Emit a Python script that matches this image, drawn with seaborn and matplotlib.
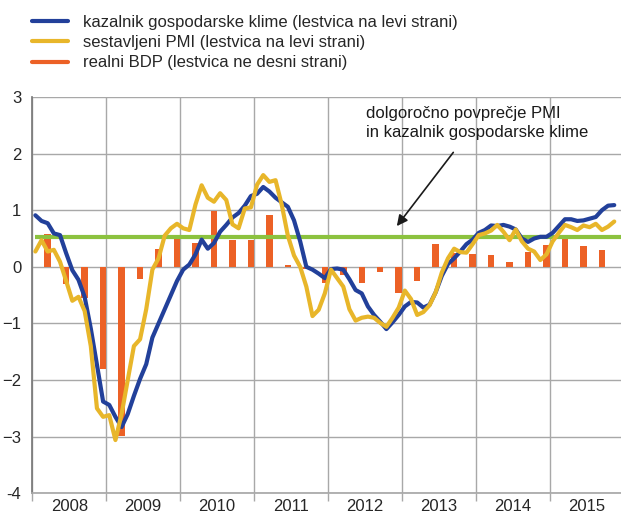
import numpy as np
import pandas as pd
import seaborn as sns
import matplotlib.pyplot as plt
from matplotlib.lines import Line2D

# mesečni podatki jan 2008 - nov 2015
months = pd.date_range('2008-01-01', periods=95, freq='MS')
klima = [0.91, 0.81, 0.77, 0.59, 0.56, 0.24, -0.06, -0.23, -0.53, -1.09, -1.73, -2.38,
         -2.44, -2.65, -2.83, -2.60, -2.28, -1.98, -1.72, -1.25, -1.00, -0.75, -0.50, -0.25,
         -0.05, 0.04, 0.22, 0.48, 0.32, 0.42, 0.62, 0.74, 0.87, 0.95, 1.08, 1.25,
         1.29, 1.41, 1.33, 1.22, 1.14, 1.06, 0.82, 0.45, 0.00, -0.05, -0.12, -0.20,
         -0.04, -0.03, -0.05, -0.22, -0.41, -0.47, -0.70, -0.85, -0.97, -1.10, -0.98, -0.85,
         -0.70, -0.62, -0.63, -0.72, -0.67, -0.45, -0.16, 0.05, 0.15, 0.27, 0.40, 0.48,
         0.60, 0.65, 0.73, 0.72, 0.74, 0.71, 0.66, 0.50, 0.44, 0.50, 0.53, 0.53,
         0.60, 0.72, 0.84, 0.84, 0.81, 0.82, 0.85, 0.88, 1.00, 1.08, 1.09]
pmi = [0.27, 0.47, 0.27, 0.30, 0.09, -0.25, -0.60, -0.53, -0.78, -1.40, -2.50, -2.65,
       -2.62, -3.06, -2.60, -2.00, -1.40, -1.28, -0.75, -0.05, 0.15, 0.55, 0.68, 0.76,
       0.68, 0.65, 1.10, 1.44, 1.22, 1.15, 1.30, 1.18, 0.75, 0.68, 1.03, 1.05,
       1.45, 1.62, 1.50, 1.53, 1.10, 0.55, 0.20, 0.00, -0.35, -0.87, -0.76, -0.47,
       -0.05, -0.20, -0.35, -0.75, -0.95, -0.90, -0.88, -0.90, -0.99, -1.06, -0.90, -0.72,
       -0.42, -0.57, -0.85, -0.80, -0.68, -0.45, -0.10, 0.15, 0.32, 0.26, 0.25, 0.40,
       0.56, 0.59, 0.64, 0.74, 0.62, 0.47, 0.66, 0.45, 0.32, 0.27, 0.12, 0.22,
       0.45, 0.60, 0.74, 0.70, 0.65, 0.73, 0.70, 0.76, 0.65, 0.71, 0.80]

# četrtletni realni BDP 2008Q1 - 2015Q3
quarters = pd.period_range('2008Q1', '2015Q3', freq='Q')
bdp = [0.58, -0.31, -0.55, -1.81,
       -2.98, -0.21, 0.31, 0.49,
       0.42, 0.98, 0.47, 0.48,
       0.91, 0.03, -0.04, -0.29,
       -0.15, -0.29, -0.10, -0.46,
       -0.25, 0.40, 0.24, 0.23,
       0.21, 0.08, 0.27, 0.38,
       0.49, 0.36, 0.29]

dolgorocno = 0.53
years = list(range(2008, 2016))
ylabels = ['-4', '\u22123', '\u22122', '\u22121', '0', '1', '2', '3']

c_blue = '#22409a'
c_yellow = '#e8b62a'
c_orange = '#ec6126'
c_green = '#8cc23f'
c_grid = '#a8a8a8'

sns.set_theme(style='white')
plt.rcParams['font.family'] = ['Liberation Sans', 'DejaVu Sans']

mx = months.year + (months.month - 0.5) / 12
qx = quarters.year + (quarters.quarter - 1) * 0.25 + 2.5 / 12
df = pd.DataFrame({'x': mx, 'klima': klima, 'pmi': pmi})

fig = plt.figure(figsize=(6.21, 5.27), dpi=100)
ax = fig.add_axes([0.052, 0.064, 0.952, 0.752])

sns.barplot(x=np.asarray(qx, dtype=float), y=bdp, native_scale=True, orient='x',
            width=0.35, color=c_orange, saturation=1, linewidth=0, edgecolor='none',
            ax=ax, zorder=2)
ax.hlines(dolgorocno, mx[0], 2016.2, color=c_green, lw=3, zorder=3)
sns.lineplot(data=df, x='x', y='klima', color=c_blue, lw=3, ax=ax, zorder=4)
sns.lineplot(data=df, x='x', y='pmi', color=c_yellow, lw=3, ax=ax, zorder=5)

ax.set_xlim(2008, 2016)
ax.set_ylim(-4, 3)
ax.set_xlabel('')
ax.set_ylabel('')

ax.set_xticks(years + [2016])
ax.set_xticklabels([])
ax.set_xticks([y + 0.5 for y in years], minor=True)
ax.set_xticklabels([str(y) for y in years], minor=True, fontsize=12)
ax.tick_params(axis='x', which='major', length=6, width=1, color=c_grid, direction='out', bottom=True)
ax.tick_params(axis='x', which='minor', length=0, pad=4)
ax.set_yticks(range(-4, 4))
ax.set_yticklabels(ylabels, fontsize=12)
ax.tick_params(axis='y', length=0, pad=8)

ax.grid(True, which='major', color=c_grid, lw=1)
ax.set_axisbelow(True)
for s in ['top', 'right']:
    ax.spines[s].set_visible(False)
ax.spines['left'].set_color('#7a7a7a')
ax.spines['bottom'].set_color(c_grid)

ax.text(2012.51, 2.84, 'dolgoročno povprečje PMI\nin kazalnik gospodarske klime',
        fontsize=12, va='top', ha='left', linespacing=1.3, color='#1a1a1a')
ax.annotate('', xy=(2012.91, 0.68), xytext=(2013.72, 2.06),
            arrowprops=dict(arrowstyle='-|>', color='#1a1a1a', lw=1.2, mutation_scale=16))

handles = [Line2D([], [], color=c_blue, lw=3),
           Line2D([], [], color=c_yellow, lw=3),
           Line2D([], [], color=c_orange, lw=3)]
labels = ['kazalnik gospodarske klime (lestvica na levi strani)',
          'sestavljeni PMI (lestvica na levi strani)',
          'realni BDP (lestvica ne desni strani)']
fig.legend(handles, labels, loc='upper left', bbox_to_anchor=(0.0515, 0.972),
           frameon=False, fontsize=12, handlelength=2.16, handletextpad=0.9,
           labelspacing=0.32, borderpad=0, borderaxespad=0)

fig.savefig('out.png', dpi=100)
